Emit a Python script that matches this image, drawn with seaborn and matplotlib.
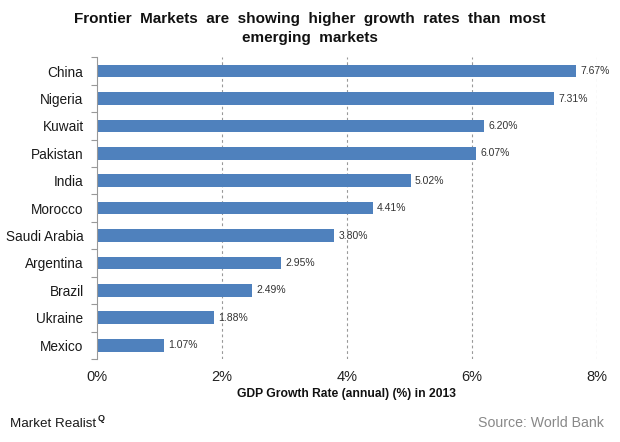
import matplotlib
matplotlib.use("Agg")
import matplotlib.pyplot as plt
import seaborn as sns
import pandas as pd

countries = ["China", "Nigeria", "Kuwait", "Pakistan", "India", "Morocco",
             "Saudi Arabia", "Argentina", "Brazil", "Ukraine", "Mexico"]
growth = [7.67, 7.31, 6.20, 6.07, 5.02, 4.41, 3.80, 2.95, 2.49, 1.88, 1.07]
xticks = [0, 2, 4, 6, 8]
xtick_labels = ["0%", "2%", "4%", "6%", "8%"]

sns.set_theme(style="white")
plt.rcParams['font.family'] = ['Liberation Sans', 'DejaVu Sans']

df = pd.DataFrame({"country": countries, "growth": growth})

fig = plt.figure(figsize=(6.2, 4.42), dpi=100)
ax = fig.add_axes([0.156, 0.188, 0.807, 0.682])

sns.barplot(data=df, x="growth", y="country", color="#4F81BD", saturation=1,
            width=0.46, linewidth=0, ax=ax, orient="h")

ax.set_xlim(0, 8)
ax.set_ylim(len(countries) - 0.5, -0.5)
ax.set_xticks(xticks)
ax.set_xticklabels(xtick_labels, fontsize=10.5, color="#222222")
ax.tick_params(axis="x", length=0, pad=8)
ax.set_yticks(range(len(countries)))
ax.set_yticklabels(countries, fontsize=9.8, color="#1a1a1a")
ax.tick_params(axis="y", length=0, pad=9.5)
# minor ticks between categories
ax.set_yticks([i - 0.5 for i in range(len(countries) + 1)], minor=True)
ax.tick_params(axis="y", which="minor", length=4, color="#999999", width=0.8, direction="out", left=True)

for x in xticks[1:]:
    ax.axvline(x, color="#999999", linestyle=(0, (2.5, 2.5)), linewidth=0.8, zorder=0)

for i, v in enumerate(growth):
    ax.text(v + 0.07, i, f"{v:.2f}%", va="center", ha="left", fontsize=7.5, color="#333333")

for s in ["top", "right", "bottom"]:
    ax.spines[s].set_visible(False)
ax.spines["left"].set_color("#999999")
ax.spines["left"].set_linewidth(0.8)

ax.set_ylabel("")
ax.set_xlabel("GDP Growth Rate (annual) (%) in 2013", fontsize=8.7, fontweight="bold",
              color="#111111", labelpad=3)

fig.text(0.5, 0.972, "Frontier  Markets  are  showing  higher  growth  rates  than  most\nemerging  markets",
         ha="center", va="top", fontsize=11, fontweight="bold", color="#111111", linespacing=1.45)

fig.text(0.016, 0.027, "Market Realist", ha="left", va="bottom", fontsize=9.6, color="#1a1a1a")
fig.text(0.157, 0.042, "Q", ha="left", va="bottom", fontsize=6.5, fontweight="bold", color="#1a1a1a")
fig.text(0.974, 0.027, "Source: World Bank", ha="right", va="bottom", fontsize=10.2, color="#888888")

fig.savefig("out.png", dpi=100)
